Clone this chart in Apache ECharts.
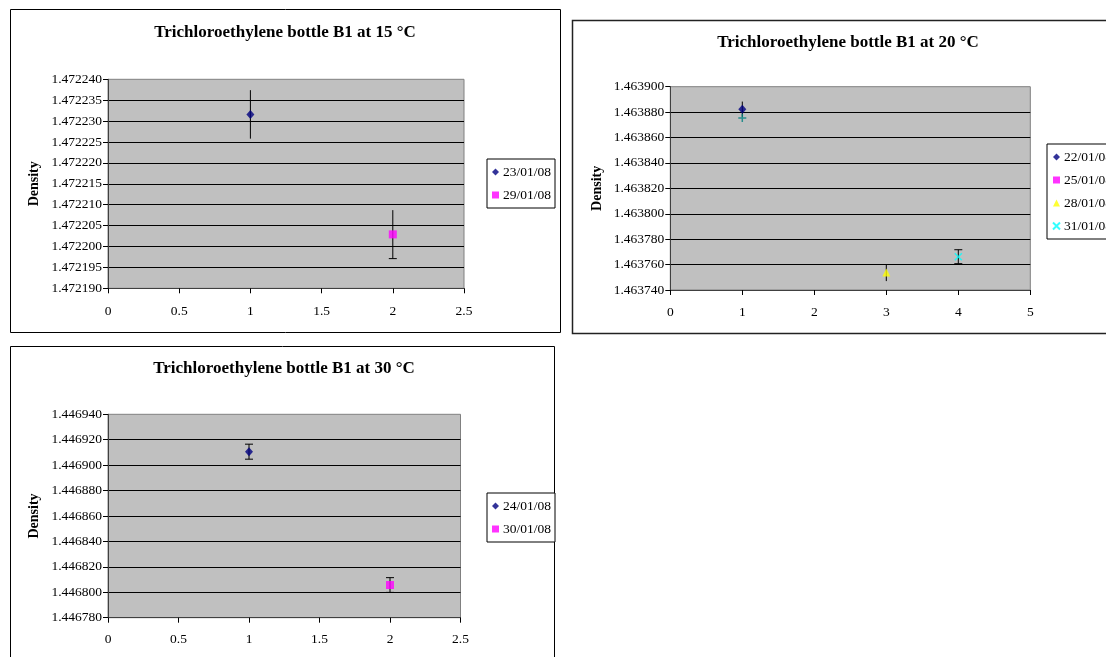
<!DOCTYPE html>
<html><head><meta charset="utf-8">
<script src="https://cdn.jsdelivr.net/npm/echarts@6/dist/echarts.min.js"></script>
<style>html,body{margin:0;padding:0;background:#fff;overflow:hidden}#c{width:1106px;height:657px}</style>
</head><body><div id="c"></div>
<script>
// ---- data ----
const titles = ['Trichloroethylene bottle B1 at 15 °C', 'Trichloroethylene bottle B1 at 20 °C', 'Trichloroethylene bottle B1 at 30 °C'];
const yName = 'Density';
const yRange15 = [1.472190, 1.472240, 0.000005];
const yRange20 = [1.463740, 1.463900, 0.000020];
const yRange30 = [1.446780, 1.446940, 0.000020];
const xRange15 = [0, 2.5, 0.5];
const xRange20 = [0, 5, 1];
const xRange30 = [0, 2.5, 0.5];

const dates15 = ['23/01/08', '29/01/08'];
const x15 = [1, 2];
const density15 = [1.4722316, 1.4722029];
const err15 = [0.0000058, 0.0000058];

const dates20 = ['22/01/08', '25/01/08', '28/01/08', '31/01/08', 'Series 5'];
const x20 = [1, null, 3, 4, 1];
const density20 = [1.4638823, null, 1.4637537, 1.4637662, 1.4638754];
const err20 = [0.0000060, null, 0.0000067, 0.0000055, null];

const dates30 = ['24/01/08', '30/01/08'];
const x30 = [1, 2];
const density30 = [1.4469106, 1.4468057];
const err30 = [0.0000059, 0.0000058];

// ---- styles ----
const FONT = 'Liberation Serif';
const markers = [
  { symbol: 'diamond', symbolSize: [8, 9], itemStyle: { color: '#000080' } },
  { symbol: 'rect', symbolSize: 8, itemStyle: { color: '#FF00FF' } },
  { symbol: 'triangle', symbolSize: 8, itemStyle: { color: '#FFFF00' } },
  { symbol: 'path://M0,0L10,10M10,0L0,10', symbolSize: 7, itemStyle: { color: 'rgba(0,0,0,0)', borderColor: '#00FFFF', borderWidth: 1.5 } },
  { symbol: 'path://M5,0L5,10M0,5L10,5', symbolSize: 8, itemStyle: { color: 'rgba(0,0,0,0)', borderColor: '#008080', borderWidth: 1.5 } }
];
// [top cap, bottom cap] per series, per panel
const caps = [
  [[false, false], [false, true]],
  [[false, false], [false, false], [false, false], [true, true], [false, false]],
  [[true, true], [true, true]]
];
const grids = [
  { left: 108, top: 79.3, width: 356, height: 209 },
  { left: 670.3, top: 86.7, width: 360, height: 203.3 },
  { left: 108, top: 414.3, width: 352.5, height: 203.4 }
];
const legendsPos = [
  { left: 487, top: 159 },
  { left: 1047, top: 144 },
  { left: 487, top: 493 }
];
const titlePos = [[285, 32.5], [848, 43], [284, 369]];
const xLabelMargin = [16, 15.7, 15];
const yNameGap = [67, 65.5, 67];

const panels = [
  { dates: dates15, xs: x15, ys: density15, errs: err15, yr: yRange15, xr: xRange15, legend: dates15 },
  { dates: dates20, xs: x20, ys: density20, errs: err20, yr: yRange20, xr: xRange20, legend: dates20.slice(0, 4) },
  { dates: dates30, xs: x30, ys: density30, errs: err30, yr: yRange30, xr: xRange30, legend: dates30 }
];

const option = {
  animation: false,
  textStyle: { fontFamily: FONT, color: '#000' },
  grid: [], xAxis: [], yAxis: [], legend: [], series: [], graphic: []
};

panels.forEach((p, i) => {
  option.grid.push(Object.assign({ show: true, backgroundColor: '#C0C0C0', borderColor: '#808080', borderWidth: 1 }, grids[i]));
  option.xAxis.push({
    gridIndex: i, type: 'value', min: p.xr[0], max: p.xr[1], interval: p.xr[2],
    axisLine: { show: true, onZero: false, lineStyle: { color: '#404040', width: 1 } },
    axisTick: { show: true, length: 5, lineStyle: { color: '#000' } },
    axisLabel: { margin: xLabelMargin[i], color: '#000', fontSize: 13.5, fontFamily: FONT },
    splitLine: { show: false }
  });
  option.yAxis.push({
    gridIndex: i, type: 'value', min: p.yr[0], max: p.yr[1], interval: p.yr[2],
    name: yName, nameLocation: 'middle', nameGap: yNameGap[i],
    nameTextStyle: { fontFamily: FONT, fontWeight: 'bold', fontSize: 14, color: '#000' },
    axisLine: { show: true, onZero: false, lineStyle: { color: '#404040', width: 1 } },
    axisTick: { show: true, length: 5, lineStyle: { color: '#000' } },
    axisLabel: { margin: 6, color: '#000', fontSize: 13.5, fontFamily: FONT, formatter: v => v.toFixed(6) },
    splitLine: { show: true, showMinLine: false, showMaxLine: false, lineStyle: { color: '#000', width: 1 } }
  });
  option.legend.push(Object.assign({
    orient: 'vertical', data: p.legend, selectedMode: false,
    itemWidth: 7, itemHeight: 7, itemGap: 9, padding: [6, 4, 6, 5],
    borderColor: '#000', borderWidth: 1, backgroundColor: '#fff',
    textStyle: { fontFamily: FONT, fontSize: 13.5, color: '#000', padding: [0, 0, 0, -1] }
  }, legendsPos[i]));

  // error bars
  const errData = [];
  p.xs.forEach((x, k) => {
    if (x == null || p.errs[k] == null) return;
    errData.push([x, p.ys[k] - p.errs[k], p.ys[k] + p.errs[k], k]);
  });
  const capSet = caps[i];
  option.series.push({
    type: 'custom', xAxisIndex: i, yAxisIndex: i, silent: true, z: 1,
    encode: { x: 0, y: [1, 2] },
    data: errData,
    renderItem: (params, api) => {
      const x = api.value(0), lo = api.value(1), hi = api.value(2), k = api.value(3);
      const pt = api.coord([x, hi]), pb = api.coord([x, lo]);
      const c = capSet[k];
      const st = { stroke: '#000', lineWidth: 1 };
      const hw = 4;
      const ch = [{ type: 'line', shape: { x1: pt[0], y1: pt[1], x2: pb[0], y2: pb[1] }, style: st }];
      if (c[0]) ch.push({ type: 'line', shape: { x1: pt[0] - hw, y1: pt[1], x2: pt[0] + hw, y2: pt[1] }, style: st });
      if (c[1]) ch.push({ type: 'line', shape: { x1: pb[0] - hw, y1: pb[1], x2: pb[0] + hw, y2: pb[1] }, style: st });
      return { type: 'group', children: ch };
    }
  });
  // markers
  p.dates.forEach((d, k) => {
    const m = markers[k];
    option.series.push({
      type: 'scatter', name: d, xAxisIndex: i, yAxisIndex: i, z: 3,
      symbol: m.symbol, symbolSize: m.symbolSize, itemStyle: m.itemStyle,
      data: p.xs[k] == null ? [] : [[p.xs[k], p.ys[k]]]
    });
  });
  option.graphic.push({
    type: 'text', x: titlePos[i][0], y: titlePos[i][1], z: 10,
    style: { text: titles[i], fontFamily: FONT, fontSize: 17, fontWeight: 'bold', fill: '#000', align: 'center', verticalAlign: 'middle' }
  });
});

option.graphic.push(
  { type: 'rect', z: -1, shape: { x: 10.5, y: 9.5, width: 550, height: 323 }, style: { fill: null, stroke: '#000', lineWidth: 1 } },
  { type: 'rect', z: -1, shape: { x: 572.5, y: 20.5, width: 600, height: 313 }, style: { fill: null, stroke: '#222', lineWidth: 1.5 } },
  { type: 'rect', z: -1, shape: { x: 10.5, y: 346.5, width: 544, height: 400 }, style: { fill: null, stroke: '#000', lineWidth: 1 } }
);

const chart = echarts.init(document.getElementById('c'), null, { renderer: 'canvas' });
chart.setOption(option);
</script>
</body></html>
